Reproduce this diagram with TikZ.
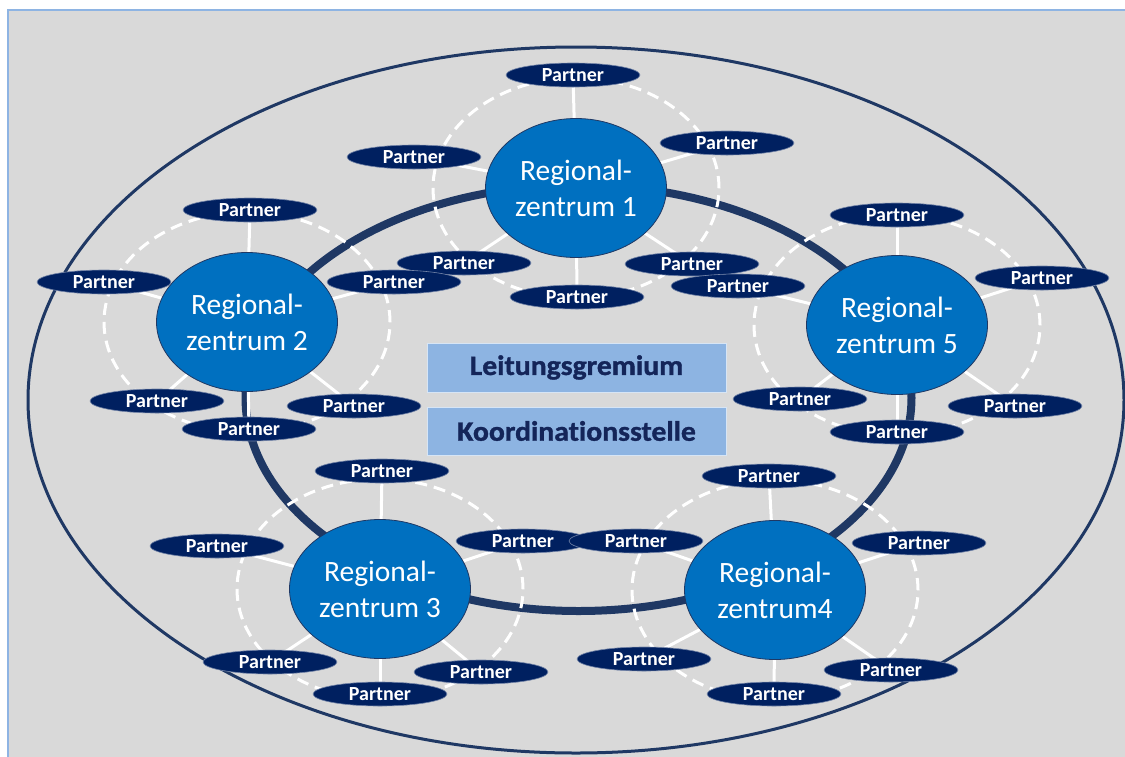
\documentclass[tikz,border=0pt]{standalone}
\usepackage{fontspec}
\setmainfont{Carlito}[RawFeature=-liga]
\newfontfamily\heavyfont{Carlito}[RawFeature=-liga, BoldFeatures={FakeBold=1.2}]
\usetikzlibrary{shapes.geometric}
\pgfdeclarelayer{back}
\pgfsetlayers{back,main}
\definecolor{bggrey}{HTML}{D9D9D9}
\definecolor{framecol}{HTML}{8EB4E3}
\definecolor{navy}{HTML}{1F3864}
\definecolor{rzfill}{HTML}{0070C0}
\definecolor{partnerfill}{HTML}{002060}
\definecolor{boxfill}{HTML}{8DB4E2}
\definecolor{boxtext}{HTML}{142559}
\begin{document}
\begin{tikzpicture}[x=1pt,y=-1pt,
 rz/.style={ellipse, fill=rzfill, draw=navy, line width=0.8pt, minimum width=181pt, minimum height=139pt, inner sep=0pt, align=center, text=white, font=\fontsize{29.5}{36}\selectfont},
 partner/.style={ellipse, fill=partnerfill, draw=partnerfill!55!white, line width=0.6pt, minimum width=134pt, minimum height=24pt, inner sep=0pt, text=white, font=\fontsize{20}{22}\selectfont\bfseries},
 centralbox/.style={rectangle, fill=boxfill, draw=white!65!boxfill, line width=0.8pt, minimum width=299pt, inner sep=0pt, text=boxtext, font=\heavyfont\fontsize{28}{30}\selectfont\bfseries},
 spoke/.style={white, line width=3pt},
 dashring/.style={white, line width=3pt, dash pattern=on 12pt off 7pt},
]
\useasboundingbox (0,0) rectangle (1125,756);

% regional centres
\node[rz] (rz1) at (576,188) {Regional-\\zentrum 1};
\node[rz] (rz2) at (247,322) {Regional-\\zentrum 2};
\node[rz] (rz5) at (897,325) {Regional-\\zentrum 5};
\node[rz] (rz3) at (380,589) {Regional-\\zentrum 3};
\node[rz] (rz4) at (775,590) {Regional-\\zentrum4};

% partners of RZ1
\node[partner] (p1t)  at (573,75)  {Partner};
\node[partner] (p1ur) at (727,143) {Partner};
\node[partner] (p1ul) at (414,157) {Partner};
\node[partner] (p1ll) at (464,263) {Partner};
\node[partner] (p1b)  at (577,297) {Partner};
\node[partner] (p1lr) at (692,264) {Partner};
% partners of RZ2
\node[partner] (p2t)  at (250,210) {Partner};
\node[partner] (p2l)  at (104,282) {Partner};
\node[partner] (p2r)  at (394,282) {Partner};
\node[partner] (p2ll) at (157,401) {Partner};
\node[partner] (p2lr) at (354,406) {Partner};
\node[partner] (p2b)  at (249,429) {Partner};
% partners of RZ5
\node[partner] (p5t)  at (897,215) {Partner};
\node[partner] (p5l)  at (738,286) {Partner};
\node[partner] (p5r)  at (1042,278) {Partner};
\node[partner] (p5ll) at (800,399) {Partner};
\node[partner] (p5lr) at (1015,406) {Partner};
\node[partner] (p5b)  at (897,432) {Partner};
% partners of RZ3
\node[partner] (p3t)  at (382,471) {Partner};
\node[partner] (p3l)  at (217,546) {Partner};
\node[partner] (p3r)  at (523,541) {Partner};
\node[partner] (p3ll) at (270,662) {Partner};
\node[partner] (p3lr) at (481,672) {Partner};
\node[partner] (p3b)  at (380,694) {Partner};
% partners of RZ4
\node[partner] (p4t)  at (769,476) {Partner};
\node[partner] (p4l)  at (636,541) {Partner};
\node[partner] (p4r)  at (919,543) {Partner};
\node[partner] (p4ll) at (644,659) {Partner};
\node[partner] (p4lr) at (891,670) {Partner};
\node[partner] (p4b)  at (774,694) {Partner};

% central boxes
\node[centralbox, minimum height=49pt] (lg) at (576.5,367.5) {\scalebox{1.06}[1]{Leitungsgremium}};
\node[centralbox, minimum height=48pt] (ks) at (576.5,431) {\scalebox{1.06}[1]{Koordinationsstelle}};

\begin{pgfonlayer}{back}
\fill[white] (0,0) rectangle (1125,756);
\fill[bggrey] (8,10) rectangle (1126,757);
\draw[framecol, line width=1.2pt] (8,757) -- (8,10) -- (1126,10);
% outer ellipse
\draw[navy, line width=3pt] (576,400) ellipse [x radius=548pt, y radius=353pt];
% ring
\draw[navy, line width=8pt] (578.5,398) ellipse [x radius=333pt, y radius=213pt];
% dashed circles
\foreach \r in {rz1,rz2,rz3,rz4,rz5}
  \draw[dashring] (\r.center) ellipse [x radius=143pt, y radius=110pt];
% spokes
\foreach \r/\p in {1/t,1/ur,1/ul,1/ll,1/b,1/lr,2/t,2/l,2/r,2/ll,2/lr,2/b,5/t,5/l,5/r,5/ll,5/lr,5/b,3/t,3/l,3/r,3/ll,3/lr,3/b,4/t,4/l,4/r,4/ll,4/lr,4/b}
  \draw[spoke] (rz\r.center) -- (p\r\p.center);
\end{pgfonlayer}
\end{tikzpicture}
\end{document}
